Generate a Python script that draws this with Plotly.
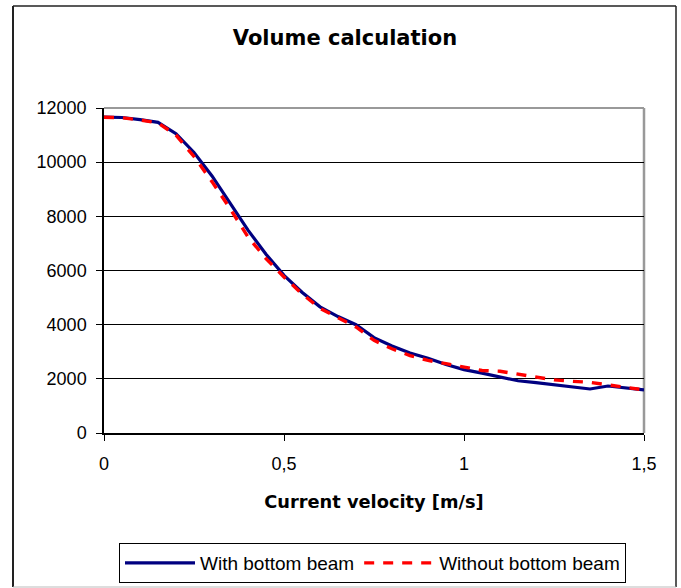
import plotly.graph_objects as go

velocity = [0, 0.05, 0.1, 0.15, 0.2, 0.25, 0.3, 0.35, 0.4, 0.45, 0.5, 0.55, 0.6, 0.65,
            0.7, 0.75, 0.8, 0.85, 0.9, 0.95, 1.0, 1.05, 1.1, 1.15, 1.2, 1.25, 1.3, 1.35,
            1.4, 1.45, 1.5]
with_beam = [11660, 11650, 11570, 11470, 11050, 10360, 9490, 8480, 7490, 6600, 5820, 5200,
             4660, 4300, 4000, 3520, 3210, 2950, 2760, 2530, 2340, 2210, 2080, 1930, 1860,
             1785, 1710, 1625, 1735, 1660, 1590]
without_beam = [11660, 11640, 11560, 11450, 11000, 10210, 9280, 8290, 7240, 6440, 5760, 5140,
                4600, 4250, 3915, 3420, 3110, 2860, 2680, 2560, 2450, 2310, 2280, 2180, 2060,
                1960, 1910, 1870, 1775, 1690, 1590]
x_tick_vals = [0, 0.5, 1, 1.5]
x_tick_text = ["0", "0,5", "1", "1,5"]
y_tick_vals = [0, 2000, 4000, 6000, 8000, 10000, 12000]
y_tick_text = ["0", "2000", "4000", "6000", "8000", "10000", "12000"]

FONT = "Liberation Sans, Arial, sans-serif"
BOLD_FONT = "DejaVu Sans, Liberation Sans, sans-serif"

fig = go.Figure()
fig.add_trace(go.Scatter(x=velocity, y=with_beam, mode="lines", name="With bottom beam",
                         line=dict(color="#000080", width=3.2)))
fig.add_trace(go.Scatter(x=velocity, y=without_beam, mode="lines", name="Without bottom beam",
                         line=dict(color="#FF0000", width=3.4, dash="10px,9px")))

L, R, T, B = 104, 37, 108, 155
W, H = 681, 588
pw, ph = W - L - R, H - T - B

def px(x):
    return (x - L) / pw

def py(y):
    return (H - B - y) / ph

shapes = [
    dict(type="line", xref="paper", yref="paper", x0=px(13), x1=px(13), y0=py(6), y1=py(587),
         line=dict(color="#222222", width=2)),
    dict(type="line", xref="paper", yref="paper", x0=px(13), x1=px(676), y0=py(6), y1=py(6),
         line=dict(color="#222222", width=1.5)),
    dict(type="line", xref="paper", yref="paper", x0=px(676), x1=px(676), y0=py(6), y1=py(587),
         line=dict(color="#222222", width=1.5)),
    dict(type="line", xref="paper", yref="paper", x0=px(13), x1=px(676), y0=py(587), y1=py(587),
         line=dict(color="#BBBBBB", width=1)),
    dict(type="line", xref="paper", yref="paper", x0=0, x1=1, y0=1, y1=1,
         line=dict(color="#999999", width=2), layer="below"),
    dict(type="line", xref="paper", yref="paper", x0=1, x1=1, y0=0, y1=1,
         line=dict(color="#999999", width=2.5), layer="below"),
]

fig.update_layout(
    width=W, height=H,
    margin=dict(l=L, r=R, t=T, b=B, autoexpand=False),
    paper_bgcolor="white", plot_bgcolor="white",
    font=dict(family=FONT, color="black", size=18),
    title=dict(text="Volume calculation", xref="container", x=345 / W, xanchor="center",
               yref="container", y=1 - 38 / H, yanchor="middle",
               font=dict(family=BOLD_FONT, size=21, weight="bold", color="black")),
    xaxis=dict(range=[0, 1.5], tickvals=x_tick_vals, ticktext=x_tick_text, automargin=False,
               showgrid=False, zeroline=False, showline=True, linecolor="black", linewidth=1.5,
               ticks="outside", ticklen=6, tickcolor="black", tickwidth=1,
               tickfont=dict(size=18), ticklabelstandoff=8,
               title=dict(text="Current velocity [m/s]", standoff=22,
                          font=dict(family=BOLD_FONT, size=17.8, weight="bold"))),
    yaxis=dict(range=[0, 12000], tickvals=y_tick_vals, ticktext=y_tick_text, automargin=False,
               showgrid=True, gridcolor="black", gridwidth=1, zeroline=False,
               showline=True, linecolor="black", linewidth=1.5,
               ticks="outside", ticklen=6, tickcolor="black", tickwidth=1,
               tickfont=dict(size=18), ticklabelstandoff=6),
    legend=dict(orientation="h", x=px(119), xanchor="left", y=py(543), yanchor="top",
                bordercolor="black", borderwidth=1, bgcolor="white",
                font=dict(size=19), itemwidth=70, tracegroupgap=0),
    shapes=shapes,
    showlegend=True,
)

fig.write_html("out.html")
